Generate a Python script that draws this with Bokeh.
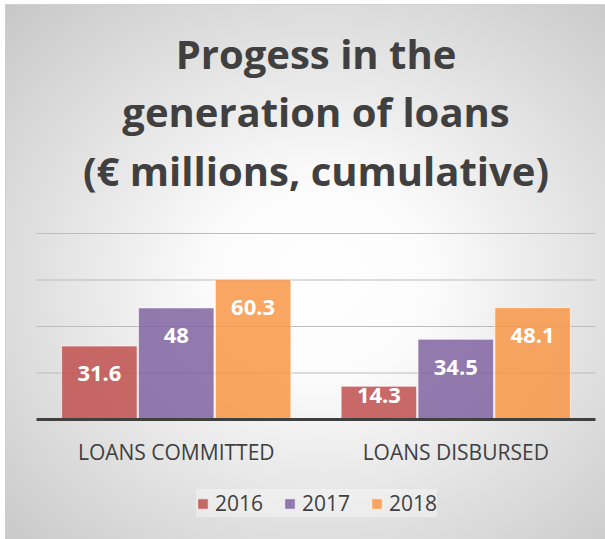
from bokeh.plotting import figure
from bokeh.models import ColumnDataSource, Legend, LegendItem, Range1d
from bokeh.core.properties import value
from bokeh.embed import file_html
from bokeh.resources import INLINE

categories = ["LOANS COMMITTED", "LOANS DISBURSED"]
years = ["2016", "2017", "2018"]
values_2016 = [31.6, 14.3]
values_2017 = [48.0, 34.5]
values_2018 = [60.3, 48.1]
colors = ["#C0504D", "#8064A2", "#F79646"]
grid_ticks = [20, 40, 60, 80]
title_lines = ["Progess in the", "generation of loans", "(€ millions, cumulative)"]

FONT = "Open Sans"
DARK = "#404040"

# canvas geometry (pixels)
W, H = 605, 539
PX_X0, PX_X1 = 36, 595          # left / right end of the category band
PX_Y0, PX_YTOP = 419, 233       # pixel row of value 0 and of the top grid value
ymax = grid_ticks[-1]
ncat = len(categories)
ux = (PX_X1 - PX_X0) / ncat
uy = (PX_Y0 - PX_YTOP) / ymax

def ydata(px_row):
    return (PX_Y0 - px_row) / uy

p = figure(width=W, height=H,
           x_range=Range1d(-PX_X0 / ux, ncat + (W - PX_X1) / ux),
           y_range=Range1d(ydata(H), ydata(0)),
           output_backend="svg", toolbar_location=None, min_border=0)
p.styles = {
    "background": "radial-gradient(ellipse farthest-corner at 53% 52%, #ffffff 0%, #fbfbfb 25%, #c6c6c6 100%)",
    "box-shadow": "inset 5px 4px 0 0 #ffffff, inset 6px 5px 0 0 #d0d0d0",
}
p.background_fill_color = None
p.border_fill_color = None
p.outline_line_color = None
p.title.visible = False
p.xaxis.visible = False
p.yaxis.visible = False
p.xgrid.visible = False
p.ygrid.visible = False

# gridlines over the category band
p.segment(x0=[0] * len(grid_ticks), x1=[ncat] * len(grid_ticks), y0=grid_ticks, y1=grid_ticks,
          line_color="#BCBCBC", line_width=1.2)

offsets = [-0.275, 0.0, 0.275]
series = [values_2016, values_2017, values_2018]
renderers = []
for i, vals in enumerate(series):
    xs = [j + 0.5 + offsets[i] for j in range(ncat)]
    ly = [v - 12 if v > 24 else v - 4 for v in vals]
    src = ColumnDataSource(dict(x=xs, top=vals, ly=ly, label=[f"{v:g}" for v in vals]))
    r = p.vbar(x="x", top="top", bottom=0, width=0.27, source=src,
               fill_color=colors[i], fill_alpha=0.85,
               line_color="white", line_alpha=0.6, line_width=1)
    p.text(x="x", y="ly", text="label", source=src, text_color="white",
           text_font=value(FONT), text_font_style="bold", text_font_size="22px",
           text_align="center", text_baseline="middle")
    renderers.append(r)

# category baseline
p.segment(x0=[0], x1=[ncat], y0=[0], y1=[0], line_color=DARK, line_width=3)

# category labels
p.text(x=[j + 0.5 for j in range(ncat)], y=[ydata(451)] * ncat, text=categories,
       text_font=value(FONT), text_font_size="21px", text_color=DARK,
       text_align="center", text_baseline="alphabetic")

# title
title_rows = [53, 111, 170]
p.text(x=[ncat / 2] * len(title_lines), y=[ydata(r) for r in title_rows], text=title_lines,
       text_font=value(FONT), text_font_style="bold", text_font_size="40px", text_color=DARK,
       text_align="center", text_baseline="alphabetic")

legend = Legend(items=[LegendItem(label=y, renderers=[r]) for y, r in zip(years, renderers)],
                orientation="horizontal", location=(196, 22))
legend.glyph_width = 13
legend.glyph_height = 13
legend.label_text_font = FONT
legend.label_text_font_size = "21px"
legend.label_text_color = DARK
legend.label_standoff = 6
legend.spacing = 20
legend.padding = 12
legend.margin = 0
legend.background_fill_color = "white"
legend.background_fill_alpha = 0.35
legend.border_line_color = None
p.add_layout(legend)

open("out.html", "w").write(file_html(p, INLINE))
